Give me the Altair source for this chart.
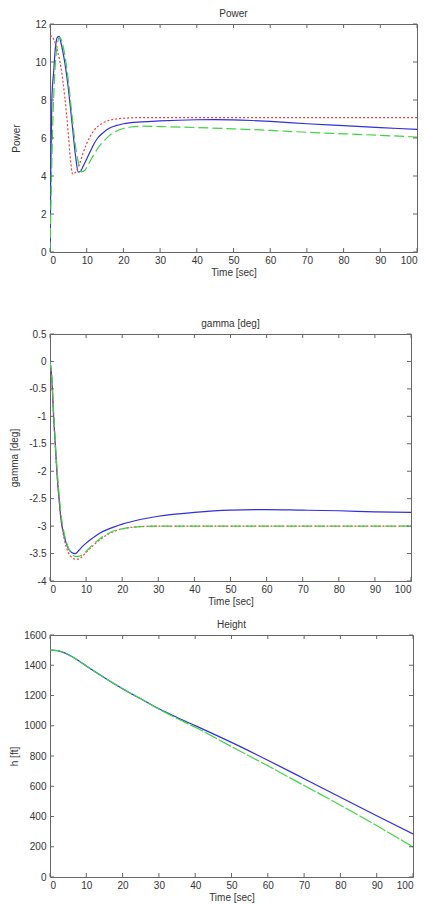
import altair as alt
import pandas as pd

# ---------------- data ----------------
time_ticks = [0, 10, 20, 30, 40, 50, 60, 70, 80, 90, 100]

power_ticks = [0, 2, 4, 6, 8, 10, 12]
gamma_ticks = [-4, -3.5, -3, -2.5, -2, -1.5, -1, -0.5, 0, 0.5]
height_ticks = [0, 200, 400, 600, 800, 1000, 1200, 1400, 1600]

# Power
pw_blue_t = [0, 0.2, 0.5, 1, 1.5, 2, 2.5, 3, 4, 5, 6, 7, 7.7, 8.5, 9, 10, 11, 12, 13, 14, 16, 18, 20, 25, 30, 40, 45, 55, 60, 70, 80, 90, 100]
pw_blue_v = [0, 4, 8, 9.5, 10.8, 11.3, 11.35, 11.0, 10.0, 8.6, 6.8, 5.0, 4.2, 4.3, 4.5, 4.9, 5.3, 5.7, 6.0, 6.2, 6.5, 6.65, 6.75, 6.85, 6.9, 6.96, 6.97, 6.92, 6.87, 6.75, 6.65, 6.55, 6.45]

pw_red_t = [0, 1, 2, 3, 4, 5, 5.5, 6.2, 7, 8, 9, 10, 12, 14, 16, 18, 20, 25, 30, 100]
pw_red_v = [11.4, 11.2, 10.6, 9.7, 8.2, 6.2, 5.0, 4.1, 4.2, 4.6, 5.2, 5.7, 6.4, 6.75, 6.92, 7.0, 7.04, 7.07, 7.07, 7.07]

pw_green_t = [0, 0.3, 0.8, 1.5, 2, 2.5, 3, 4, 5, 6, 7, 8, 8.6, 9.5, 10, 11, 12, 13, 14, 15, 16, 18, 20, 22, 25, 30, 40, 50, 60, 70, 80, 90, 100]
pw_green_v = [0, 3, 7, 10, 10.9, 11.3, 11.2, 10.4, 9.0, 7.2, 5.5, 4.5, 4.22, 4.3, 4.45, 4.8, 5.15, 5.45, 5.7, 5.9, 6.1, 6.35, 6.5, 6.58, 6.62, 6.6, 6.55, 6.48, 6.4, 6.3, 6.22, 6.14, 6.05]

# gamma
gm_blue_t = [0, 0.5, 1, 1.5, 2, 2.5, 3, 4, 5, 6, 7, 8, 9, 10, 12, 14, 16, 18, 20, 25, 30, 40, 50, 60, 70, 80, 90, 100]
gm_blue_v = [0, -0.3, -1.0, -1.55, -2.1, -2.5, -2.85, -3.2, -3.4, -3.48, -3.5, -3.44, -3.37, -3.31, -3.21, -3.12, -3.06, -3.01, -2.965, -2.88, -2.82, -2.75, -2.71, -2.7, -2.71, -2.72, -2.74, -2.75]

gm_red_t = [0, 0.5, 1, 1.5, 2, 2.5, 3, 4, 5, 6, 7, 8, 9, 10, 12, 14, 16, 18, 20, 25, 30, 100]
gm_red_v = [0, -0.35, -1.0, -1.6, -2.1, -2.5, -2.85, -3.25, -3.47, -3.57, -3.6, -3.6, -3.55, -3.48, -3.35, -3.24, -3.15, -3.09, -3.05, -3.01, -3.0, -3.0]

gm_green_t = [0, 0.5, 1, 1.5, 2, 2.5, 3, 4, 5, 6, 7, 8, 9, 10, 12, 14, 16, 18, 20, 25, 30, 100]
gm_green_v = [0, -0.3, -0.9, -1.5, -2.0, -2.4, -2.75, -3.15, -3.38, -3.5, -3.55, -3.55, -3.52, -3.46, -3.33, -3.22, -3.14, -3.08, -3.05, -3.01, -3.0, -3.0]

# height
ht_blue_t = [0, 2, 4, 6, 8, 10, 15, 20, 25, 30, 35, 40, 50, 60, 70, 80, 90, 100]
ht_blue_v = [1500, 1497, 1482, 1458, 1428, 1395, 1318, 1245, 1178, 1112, 1055, 1001, 890, 772, 650, 527, 405, 285]

ht_green_t = [0, 2, 4, 6, 8, 10, 15, 20, 25, 30, 35, 40, 50, 60, 70, 80, 90, 100]
ht_green_v = [1500, 1497, 1482, 1458, 1428, 1395, 1318, 1245, 1178, 1110, 1048, 990, 862, 735, 605, 475, 340, 198]

# ---------------- styling ----------------
FONT = "Liberation Sans"
TXT = "#333333"
FRAME = "#666666"
BLUE = "#2f2fe0"
RED = "#f03c3c"
GREEN = "#3fd43f"


def make_panel(series, title, y_title, y_domain, y_ticks, width, height, title_x, title_offset):
    x_scale = alt.Scale(domain=[0, 100], nice=False, zero=False)
    y_scale = alt.Scale(domain=y_domain, nice=False, zero=False)
    x_axis = alt.Axis(values=time_ticks, title="Time [sec]", labelExpr="datum.value + ''",
                      labelPadding=3, titlePadding=2, ticks=False, tickSize=0,
                      domain=False, grid=False)
    y_axis = alt.Axis(values=y_ticks, title=y_title, labelExpr="datum.value + ''",
                      labelPadding=4, ticks=False, tickSize=0, domain=False, grid=False,
                      titleX=title_x, titleY=height / 2)
    layers = []
    for tt, vv, color, dash in series:
        df = pd.DataFrame({"t": tt, "v": vv})
        mk = dict(color=color, strokeWidth=1.2, interpolate="monotone", clip=True)
        if dash:
            mk["strokeDash"] = dash
        layers.append(
            alt.Chart(df).mark_line(**mk).encode(
                x=alt.X("t:Q", scale=x_scale, axis=x_axis),
                y=alt.Y("v:Q", scale=y_scale, axis=y_axis),
            )
        )
    xt = pd.DataFrame({"t": time_ticks})
    yt = pd.DataFrame({"v": y_ticks})
    tl = 4
    tick_top = alt.Chart(xt).mark_rule(color=FRAME, strokeWidth=1).encode(
        x=alt.X("t:Q", scale=x_scale, axis=x_axis), y=alt.value(0), y2=alt.value(tl))
    tick_bot = alt.Chart(xt).mark_rule(color=FRAME, strokeWidth=1).encode(
        x=alt.X("t:Q", scale=x_scale, axis=x_axis), y=alt.value(height), y2=alt.value(height - tl))
    tick_left = alt.Chart(yt).mark_rule(color=FRAME, strokeWidth=1).encode(
        y=alt.Y("v:Q", scale=y_scale, axis=y_axis), x=alt.value(0), x2=alt.value(tl))
    tick_right = alt.Chart(yt).mark_rule(color=FRAME, strokeWidth=1).encode(
        y=alt.Y("v:Q", scale=y_scale, axis=y_axis), x=alt.value(width - tl), x2=alt.value(width))
    return alt.layer(*layers, tick_top, tick_bot, tick_left, tick_right).properties(
        width=width, height=height,
        title=alt.TitleParams(title, offset=title_offset),
    )


p1 = make_panel(
    [(pw_blue_t, pw_blue_v, BLUE, None),
     (pw_red_t, pw_red_v, RED, [2, 2]),
     (pw_green_t, pw_green_v, GREEN, [10, 4])],
    "Power", "Power", [0, 12], power_ticks, 367, 228, -29, 0)

p2 = make_panel(
    [(gm_blue_t, gm_blue_v, BLUE, None),
     (gm_red_t, gm_red_v, RED, [2, 2]),
     (gm_green_t, gm_green_v, GREEN, [10, 4])],
    "gamma [deg]", "gamma [deg]", [-4, 0.5], gamma_ticks, 361, 247, -31, 0)

p3 = make_panel(
    [(ht_blue_t, ht_blue_v, BLUE, None),
     (ht_green_t, ht_green_v, GREEN, [14, 2])],
    "Height", "h [ft]", [0, 1600], height_ticks, 363, 242, -31, 0)

SPACER_H = 14
spacer = alt.Chart(pd.DataFrame({"a": [0]})).mark_rule(color="white").encode(
    x=alt.value(0), y=alt.value(0), y2=alt.value(SPACER_H)
).properties(width=10, height=SPACER_H, view=alt.ViewBackground(strokeOpacity=0))

chart = alt.vconcat(p1, spacer, p2, p3, spacing=12).properties(
    padding={"left": 0, "top": 0, "right": 0, "bottom": 0}
).configure_view(
    stroke=FRAME, strokeWidth=1
).configure_axis(
    labelFont=FONT, labelFontSize=10, labelColor=TXT,
    titleFont=FONT, titleFontSize=10, titleFontWeight="normal", titleColor=TXT,
).configure_title(
    font=FONT, fontSize=10, fontWeight="normal", color=TXT, anchor="middle"
)

chart.save("out.html", embed_options={"renderer": "svg", "actions": False})
